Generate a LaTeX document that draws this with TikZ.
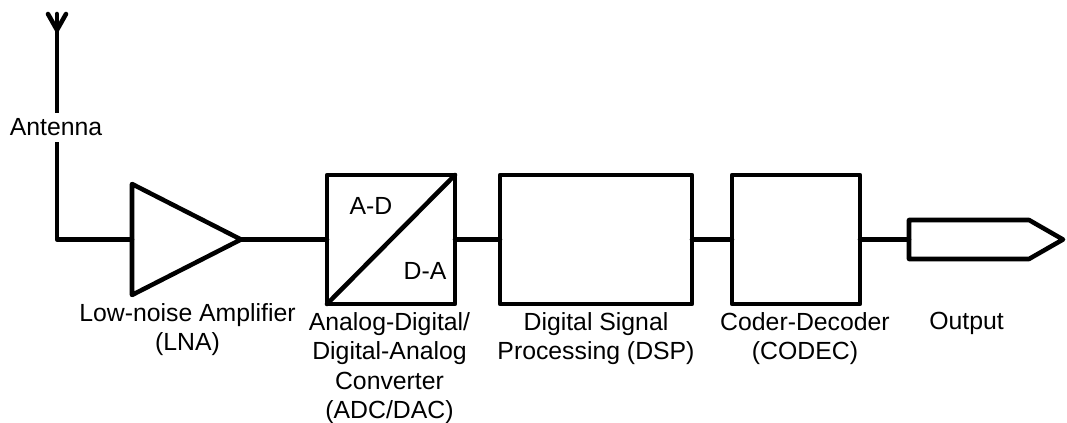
\documentclass[tikz,border=0pt]{standalone}
\usepackage{fontspec}
\setmainfont{Liberation Sans}
\tikzset{
  wire/.style={line width=3.4pt,line join=round,line cap=round,black},
  blk/.style={draw,wire,inner sep=0pt,outer sep=0pt,anchor=north west,minimum height=96.75pt},
  lbl/.style={inner sep=0pt,align=center,font=\fontsize{18.6}{22.1}\selectfont},
}
\begin{document}
\begin{tikzpicture}[x=0.75pt,y=-0.75pt]
\useasboundingbox (0,0) rectangle (1067,423);
% named anchor points
\coordinate (tip) at (57,30);
\coordinate (pl) at (48,14);
\coordinate (pm) at (57,14);
\coordinate (pr) at (66,14);
\coordinate (corner) at (57,239.5);
\coordinate (ta) at (132,184);
\coordinate (tb) at (132,295);
\coordinate (tc) at (241,239.5);
\coordinate (lnain) at (132,239.5);
% blocks
\node[blk,minimum width=96pt] (adc) at (327,175) {};
\node[blk,minimum width=144pt] (dsp) at (500,175) {};
\node[blk,minimum width=96pt] (codec) at (732,175) {};
\coordinate (oa) at (909,220);
\coordinate (ob) at (1029,220);
\coordinate (oc) at (1063,239.5);
\coordinate (od) at (1029,259);
\coordinate (oe) at (909,259);
\coordinate (oin) at (909,239.5);
% antenna and amplifier
\draw[wire] (pl) -- (tip) -- (pr);
\draw[wire] (pm) -- (corner) -- (lnain);
\draw[wire] (ta) -- (tc) -- (tb) -- cycle;
% diagonal
\draw[wire] (adc.south west) -- (adc.north east);
% output
\draw[wire] (oa) -- (ob) -- (oc) -- (od) -- (oe) -- cycle;
% connectors
\draw[wire] (tc) -- (tc -| adc.west);
\draw[wire] (adc.east) -- (dsp.west);
\draw[wire] (dsp.east) -- (codec.west);
\draw[wire] (codec.east) -- (oin);
% labels
\node[lbl,fill=white,inner ysep=4.6pt,inner xsep=1pt] (ant) at (56,127.5) {Antenna};
\node[lbl] (ad) at (371,206) {A-D};
\node[lbl] (da) at (425,271) {D-A};
\node[lbl,anchor=north] (l1) at (187.5,303) {Low-noise Amplifier\\(LNA)};
\node[lbl,anchor=north] (l2) at (389.5,312) {Analog-Digital/\\Digital-Analog\\Converter\\(ADC/DAC)};
\node[lbl,anchor=north] (l3) at (596,312) {Digital Signal\\Processing (DSP)};
\node[lbl,anchor=north] (l4) at (805,312) {Coder-Decoder\\(CODEC)};
\node[lbl,anchor=north] (l5) at (966.5,312) {Output};
\end{tikzpicture}
\end{document}
